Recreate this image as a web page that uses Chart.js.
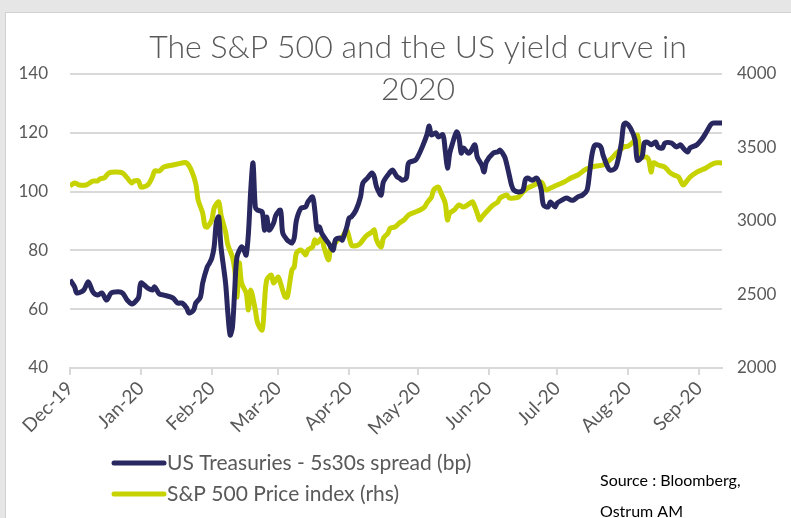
<!DOCTYPE html>
<html>
<head>
<meta charset="utf-8">
<title>S&P 500 and US yield curve</title>
<script src="https://cdn.jsdelivr.net/npm/chart.js@4/dist/chart.umd.min.js"></script>
<style>
body{margin:0;background:#e6e6e6;overflow:hidden;}
#box{position:absolute;left:5px;top:12px;width:790px;height:510px;background:#fff;border-left:1px solid #d0d0d0;border-top:1px solid #d0d0d0;}
#myChart{display:block;}
</style>
</head>
<body>
<div id="box"><canvas id="myChart" width="785" height="505"></canvas></div>
<script>
// 날짜는 2019-12-01 부터 지난 일수
var monthTicks = [0, 31, 62, 91, 122, 152, 183, 213, 244, 275];
var monthLabels = ['Dec-19', 'Jan-20', 'Feb-20', 'Mar-20', 'Apr-20', 'May-20', 'Jun-20', 'Jul-20', 'Aug-20', 'Sep-20'];

var titleLines = ['The S&P 500 and the US yield curve in', '2020'];
var sourceLines = ['Source : Bloomberg,', 'Ostrum AM'];

// US Treasuries 5s30s spread (bp)
var spreadDays = [0,2,3,6,8,10,12,14,16,18,21,23,25,27,28,30,31,34,36,37,39,41,45,47,49,51,52,54,55,57,
	58,60,61,62,63,64,65,66,68,69,70,71,72,73,75,76,77,78,79,80,81,82,84,85,86,87,89,90,92,93,
	95,96,97,98,99,101,103,104,106,107,108,109,110,112,113,115,116,118,119,121,122,123,125,127,128,130,132,133,134,136,
	137,140,141,143,144,145,147,148,151,152,154,156,157,158,160,161,163,164,165,166,167,169,170,171,172,174,175,177,178,180,
	181,182,185,187,188,190,191,192,193,194,196,198,199,200,202,204,205,206,207,209,210,212,213,215,217,219,220,222,224,226,
	227,228,229,230,232,233,235,236,238,239,241,242,243,245,247,248,250,251,252,253,254,256,257,259,260,263,265,267,268,270,
	271,274,276,278,280,281,283,285];
var spreadBp = [70,67.6,65.5,66.5,69.3,65.9,64.8,65.5,63.1,65.5,65.9,65.5,63.1,61.8,62.1,64.1,68.9,67.2,66.5,67.6,65.2,64.8,63.8,62.1,62.1,60.4,58.7,59.7,62.1,64.1,
	68.9,74.4,75.7,77.4,81.2,89.7,91.4,81.2,68.9,58.7,51.2,53.9,66.5,77.8,81.2,80.1,78.4,85.9,100.5,109.7,94.8,93.7,93.1,86.9,91.4,86.9,89.3,92.0,93.7,85.9,
	83.5,82.9,82.5,84.2,90.3,94.4,94.8,96.5,98.2,93.7,86.9,88.0,85.9,83.5,82.5,80.1,83.5,84.2,83.5,88.0,91.0,91.4,93.7,98.2,102.9,104.6,106.3,105.0,101.6,98.8,
	103.3,106.7,107.3,105.0,104.6,103.9,104.6,109.7,110.7,111.8,115.2,119.3,122.3,119.3,120.0,118.6,119.3,114.1,108.0,113.1,115.9,120.3,118.6,113.1,114.8,113.1,113.5,115.9,111.8,109.0,
	106.7,110.1,113.1,113.5,114.1,111.8,109.0,105.6,102.2,100.5,99.9,100.5,103.9,104.6,103.9,104.6,103.3,100.5,95.4,94.8,96.5,94.8,96.1,97.1,97.8,97.1,97.1,98.2,98.8,100.5,
	105.6,111.8,115.2,115.9,115.2,112.4,108.4,107.3,107.7,109.0,116.5,122.7,123.3,121.6,117.6,110.7,111.8,116.5,116.9,116.5,115.9,116.9,115.2,114.8,116.5,116.5,115.2,115.9,114.8,113.5,
	114.8,115.9,117.6,120.0,122.7,123.3,123.3,123.3];

// S&P 500 price index (오른쪽 축)
var spxDays = [0,2,4,7,10,12,13,15,17,20,23,25,27,28,30,31,34,36,37,39,41,45,47,49,51,53,55,56,58,59,
	60,62,63,65,66,68,69,71,72,73,74,75,77,78,79,81,82,84,85,86,88,89,91,92,94,95,97,98,99,101,
	103,104,106,107,108,110,111,113,114,116,117,119,120,121,123,124,126,127,129,130,132,133,134,136,137,139,140,142,144,146,
	148,151,153,155,156,158,159,161,162,164,165,166,168,170,172,175,176,178,179,180,182,185,187,188,191,192,194,196,198,200,
	203,206,208,210,213,216,219,222,225,227,228,230,233,236,239,242,244,247,248,249,250,252,253,254,255,257,260,262,264,266,
	268,270,271,274,276,278,280,282,285];
var spxLevel = [3238,3259,3245,3245,3272,3272,3286,3293,3327,3333,3327,3293,3259,3272,3272,3231,3245,3299,3340,3340,3367,3381,3388,3395,3395,3347,3252,3143,3054,2966,
	2959,3007,3088,3129,3041,2925,2837,2755,2667,2483,2714,2578,2510,2395,2531,2395,2306,2259,2442,2599,2633,2578,2619,2578,2483,2483,2667,2687,2782,2803,
	2769,2803,2823,2871,2850,2884,2823,2735,2823,2850,2871,2891,2918,2939,2837,2830,2837,2850,2891,2905,2925,2939,2871,2823,2884,2918,2952,2959,2986,3007,
	3041,3061,3075,3095,3122,3163,3211,3231,3197,3122,3007,3054,3075,3109,3095,3122,3129,3054,3007,3027,3061,3109,3129,3156,3177,3156,3156,3163,3197,3224,
	3245,3265,3211,3224,3245,3265,3293,3313,3347,3361,3367,3374,3381,3415,3463,3503,3510,3551,3585,3503,3435,3435,3415,3333,3395,3381,3367,3333,3313,3299,
	3245,3279,3299,3333,3347,3361,3381,3395,3395];

function toPoints(days, vals){
	var pts = [];
	for(var i = 0; i < days.length; i++){
		pts.push({x: days[i], y: vals[i]});
	}
	return pts;
}

//제목, 범례, 출처 그리기
var extraText = {
	id: 'extraText',
	afterDraw: function(chart){
		var ctx = chart.ctx;
		ctx.save();
		ctx.textBaseline = 'middle';

		ctx.fillStyle = '#595959';
		ctx.font = '300 32px Lato';
		ctx.textAlign = 'center';
		ctx.fillText(titleLines[0], 412, 35);
		ctx.fillText(titleLines[1], 412, 77);

		ctx.textAlign = 'left';
		ctx.font = '21px Lato';
		chart.data.datasets.forEach(function(ds, i){
			var y = 450 + i * 31;
			ctx.strokeStyle = ds.borderColor;
			ctx.lineWidth = 5;
			ctx.lineCap = 'round';
			ctx.beginPath();
			ctx.moveTo(108, y);
			ctx.lineTo(158, y);
			ctx.stroke();
			ctx.fillStyle = '#595959';
			ctx.fillText(ds.label, 161, y);
		});

		ctx.fillStyle = '#000';
		ctx.font = '16px Lato';
		ctx.fillText(sourceLines[0], 594, 468);
		ctx.fillText(sourceLines[1], 594, 499);
		ctx.restore();
	}
};

var ctx = document.getElementById('myChart').getContext('2d');
var myLineChart = new Chart(ctx, {
	type: 'line',
	data: {
		datasets: [{
			label: 'US Treasuries - 5s30s spread (bp)',
			data: toPoints(spreadDays, spreadBp),
			yAxisID: 'y',
			borderColor: '#29275f',
			borderWidth: 5,
			pointRadius: 0,
			tension: 0.3
		}, {
			label: 'S&P 500 Price index (rhs)',
			data: toPoints(spxDays, spxLevel),
			yAxisID: 'y1',
			borderColor: '#c6d300',
			borderWidth: 5,
			pointRadius: 0,
			tension: 0.3
		}]
	},
	options: {
		responsive: false,
		animation: false,
		layout: {padding: {top: 61, left: 0, right: 0, bottom: 0}},
		plugins: {
			legend: {display: false},
			title: {display: false},
			tooltip: {enabled: false}
		},
		scales: {
			x: {
				type: 'linear',
				min: 0,
				max: 285,
				afterBuildTicks: function(axis){
					axis.ticks = monthTicks.map(function(v){ return {value: v}; });
				},
				afterFit: function(axis){ axis.height = 150; },
				ticks: {
					autoSkip: false,
					minRotation: 45,
					maxRotation: 45,
					padding: 2,
					color: '#595959',
					font: {family: 'Lato', size: 19},
					callback: function(value){ return monthLabels[monthTicks.indexOf(value)]; }
				},
				grid: {drawOnChartArea: false, drawTicks: true, tickLength: 7, color: '#d9d9d9', lineWidth: 2},
				border: {color: '#d9d9d9', width: 2}
			},
			y: {
				position: 'left',
				min: 40,
				max: 140,
				afterFit: function(axis){ axis.width = 64; },
				ticks: {stepSize: 20, padding: 22, color: '#595959', font: {family: 'Lato', size: 17}},
				grid: {color: '#d9d9d9', lineWidth: 2, drawTicks: false},
				border: {display: false}
			},
			y1: {
				position: 'right',
				min: 2000,
				max: 4000,
				afterFit: function(axis){ axis.width = 69; },
				ticks: {
					stepSize: 500,
					padding: 15,
					color: '#595959',
					font: {family: 'Lato', size: 17},
					callback: function(value){ return String(value); }
				},
				grid: {display: false, drawTicks: false},
				border: {display: false}
			}
		}
	},
	plugins: [extraText]
});
</script>
</body>
</html>
